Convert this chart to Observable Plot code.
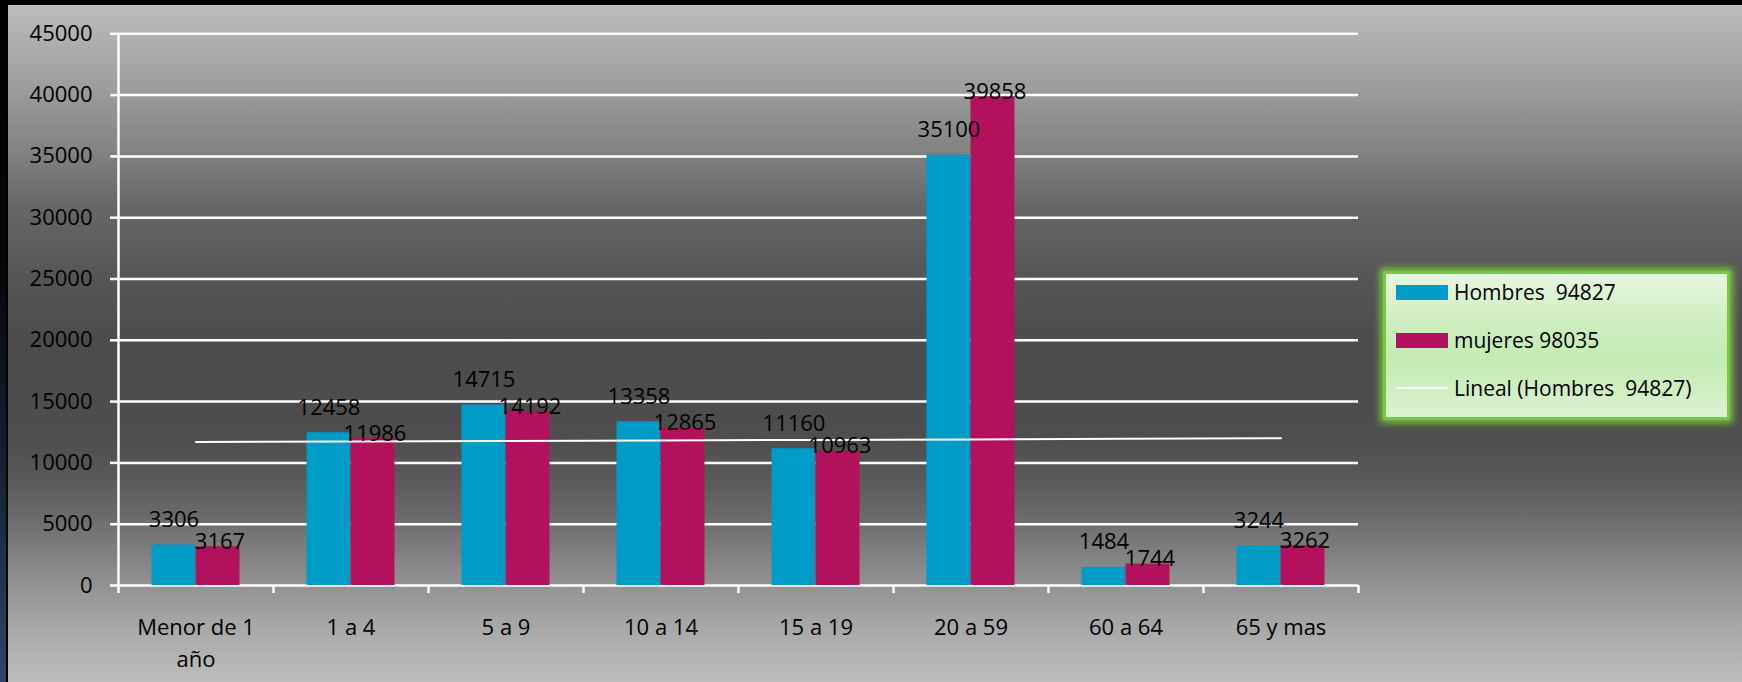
<!DOCTYPE html>
<html>
<head>
<meta charset="utf-8">
<script src="https://cdn.jsdelivr.net/npm/d3@7"></script>
<script src="https://cdn.jsdelivr.net/npm/@observablehq/plot@0.6"></script>
<style>
html, body { margin: 0; padding: 0; background: #000; }
#wrap {
  position: relative; width: 1742px; height: 682px; overflow: hidden;
  background: linear-gradient(to bottom, #bcbcbc 0px, #bcbcbc 5px, #9a9a9a 95px, #808080 156px, #676767 205px, #555 280px, #4c4c4c 340px, #4e4e4e 440px, #5a5a5a 480px, #6a6a6a 515px, #8a8a8a 570px, #a5a5a5 620px, #bdbdbd 682px);
  font-family: "Open Sans", sans-serif;
}
#topband { position: absolute; left: 0; top: 0; width: 1742px; height: 5px; background: #000; }
#leftstrip { position: absolute; left: 0; top: 0; width: 6px; height: 682px;
  background: linear-gradient(to bottom, #000 0%, #05070b 40%, #1b2942 75%, #2f4569 100%); }
#leftline { position: absolute; left: 6px; top: 0; width: 2px; height: 682px; background: #000; }
#chart { position: absolute; left: 0; top: 0; }
#legend {
  position: absolute; left: 1383px; top: 271px; width: 341px; height: 143px;
  border: 3px solid #7cc444;
  box-shadow: 0 0 7px 3px rgba(125, 215, 60, 0.85);
  background: linear-gradient(to bottom, #e7f6e0 0%, #cdeebf 35%, #c4ebb3 60%, #dbf2d1 100%);
}
.row { position: absolute; left: 10px; height: 28px; display: flex; align-items: center; white-space: pre; font-size: 21px; color: #000; }
.sw { width: 52px; height: 15px; margin-right: 6px; flex: none; }
.ln { width: 52px; height: 2px; margin-right: 6px; flex: none; background: #fff; }
</style>
</head>
<body>
<div id="wrap">
  <div id="topband"></div>
  <div id="leftstrip"></div>
  <div id="leftline"></div>
  <div id="chart"></div>
  <div id="legend"></div>
</div>
<script>
// ---- data ----
const categories = ["Menor de 1\naño", "1 a 4", "5 a 9", "10 a 14", "15 a 19", "20 a 59", "60 a 64", "65 y mas"];
const hombres = [3306, 12458, 14715, 13358, 11160, 35100, 1484, 3244];
const mujeres = [3167, 11986, 14192, 12865, 10963, 39858, 1744, 3262];
const yTicks = [0, 5000, 10000, 15000, 20000, 25000, 30000, 35000, 40000, 45000];
const seriesNames = ["Hombres  94827", "mujeres 98035", "Lineal (Hombres  94827)"];

// ---- styles ----
const blue = "#009bc6";
const magenta = "#b1125b";
const W = 1742, H = 682;
const mL = 118, mR = 384, mT = 33.3, mB = 97;
const bw = (W - mL - mR) / categories.length;
const barW = 44;
const fs = 22;

// ---- derived tables ----
const dataH = categories.map((c, i) => ({cat: c, v: hombres[i]}));
const dataM = categories.map((c, i) => ({cat: c, v: mujeres[i]}));
// linear trend of Hombres (least squares over category index)
const xs = hombres.map((_, i) => i + 1);
const mx = d3.mean(xs), my = d3.mean(hombres);
const slope = d3.sum(xs, (x, i) => (x - mx) * (hombres[i] - my)) / d3.sum(xs, x => (x - mx) ** 2);
const trend = categories.map((c, i) => ({cat: c, v: my + slope * (xs[i] - mx)}));

const chart = Plot.plot({
  width: W, height: H,
  marginLeft: mL, marginRight: mR, marginTop: mT, marginBottom: mB,
  style: {background: "transparent", fontFamily: "'Open Sans', sans-serif", fontSize: fs + "px", color: "#000", overflow: "visible"},
  x: {type: "band", domain: categories, padding: 0, axis: null},
  y: {domain: [0, 45000], axis: null},
  marks: [
    Plot.gridY(yTicks, {stroke: "#fff", strokeOpacity: 1, strokeWidth: 2.5}),
    Plot.axisY(yTicks, {tickSize: 8, tickPadding: 18, stroke: "#fff", strokeWidth: 2.5, fill: "#000", fontSize: fs, tickFormat: d => String(d), label: null}),
    Plot.barY(dataH, {x: "cat", y: "v", fill: blue, insetLeft: bw / 2 - barW, insetRight: bw / 2}),
    Plot.barY(dataM, {x: "cat", y: "v", fill: magenta, insetLeft: bw / 2, insetRight: bw / 2 - barW}),
    Plot.ruleX([categories[0]], {x: d => d, dx: -bw / 2, stroke: "#fff", strokeWidth: 2.5, insetBottom: -8}),
    Plot.ruleX(categories, {x: d => d, y1: 0, y2: 0, dx: bw / 2, stroke: "#fff", strokeWidth: 2.5, insetBottom: -8}),
    Plot.line(trend, {x: "cat", y: "v", stroke: "#fff", strokeWidth: 2}),
    Plot.text(dataH, {x: "cat", y: "v", text: d => String(d.v), dx: -barW / 2, dy: -18, lineAnchor: "bottom", fill: "#000", fontSize: fs}),
    Plot.text(dataM, {x: "cat", y: "v", text: d => String(d.v), dx: barW / 2 + 2, dy: 2, lineAnchor: "bottom", fill: "#000", fontSize: fs}),
    Plot.text(categories, {x: d => d, y: 0, text: d => d, lineAnchor: "top", dy: 27, lineHeight: 1.45, fill: "#000", fontSize: fs})
  ]
});
document.getElementById("chart").appendChild(chart);

// ---- legend ----
const legend = document.getElementById("legend");
const swatches = [blue, magenta, null];
seriesNames.forEach((name, i) => {
  const row = document.createElement("div");
  row.className = "row";
  row.style.top = (4 + i * 48) + "px";
  const sw = document.createElement("span");
  if (swatches[i]) { sw.className = "sw"; sw.style.background = swatches[i]; }
  else { sw.className = "ln"; }
  const t = document.createElement("span");
  t.textContent = name;
  row.appendChild(sw); row.appendChild(t);
  legend.appendChild(row);
});
</script>
</body>
</html>
